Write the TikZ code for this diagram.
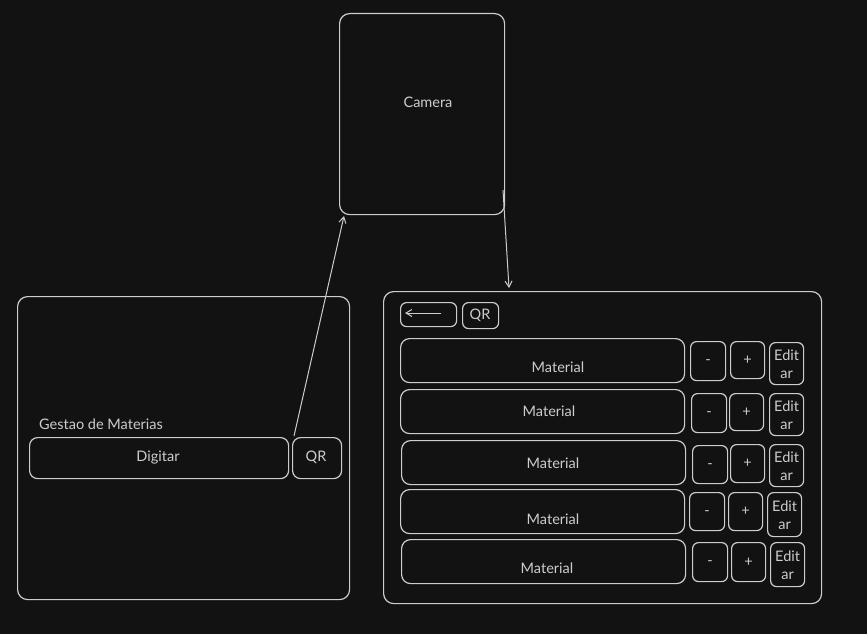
\documentclass[tikz,border=0pt]{standalone}
\usepackage{fontspec}
\setmainfont{Lato}
\usetikzlibrary{arrows.meta,calc}
\definecolor{bg}{HTML}{121212}
\definecolor{ink}{HTML}{CDCDCD}
\begin{document}
\begin{tikzpicture}[x=1pt,y=-1pt,
  box/.style={draw=ink, line width=1.2pt, rounded corners=6pt, inner sep=0pt, anchor=north west},
  bigbox/.style={box, rounded corners=10pt},
  lbl/.style={text=ink, font=\fontsize{14.5}{16}\selectfont, inner sep=0pt},
  conn/.style={draw=ink, line width=1pt, -{Straight Barb[length=6pt,width=7pt]}}]
\fill[bg] (0,0) rectangle (867,634);
\useasboundingbox (0,0) rectangle (867,634);
% camera
\node[bigbox, minimum width=165pt, minimum height=201pt] (cam) at (339,13) {};
\node[lbl] (camt) at (428,102) {Camera};
% left screen
\node[bigbox, minimum width=332pt, minimum height=303pt] (left) at (17,296) {};
\node[lbl, anchor=west] (gest) at (39,424.5) {Gestao de Materias};
\node[box, rounded corners=8pt, minimum width=259pt, minimum height=41pt] (dig) at (29,437) {};
\node[lbl] (digt) at (158,457.5) {Digitar};
\node[box, rounded corners=8pt, minimum width=49pt, minimum height=41pt] (qr1) at (292,437) {};
\node[lbl] (qr1t) at (316,457.5) {QR};
% right screen
\node[bigbox, minimum width=438pt, minimum height=312pt] (right) at (383,291) {};
\node[box, minimum width=56pt, minimum height=24pt] (back) at (400,302) {};
\coordinate (ba) at (441,313);
\coordinate (bb) at (405,313);
\draw[draw=ink, line width=1pt, -{Straight Barb[length=6pt,width=7pt]}] (ba) -- (bb);
\node[box, minimum width=36pt, minimum height=26pt] (qr2) at (462,302) {};
\node[lbl] (qr2t) at (480,315.5) {QR};
% rows
\foreach \i/\mx/\my/\tx/\ty/\ax/\ay/\ah/\px/\py/\ph/\ex/\ey/\eh in {
  1/400/338/558/367.5/690/341/39/730/341/37/769/342/42,
  2/400/389/549/411.5/691/393/39/729/393/37/769/393/42,
  3/401/440/553/463.5/692/445/38/730/444/38/769/444/42,
  4/400/489/553/519.5/689/492/38/728/492/38/767/492/44,
  5/401/539/547/568.5/692/542/39/731/542/39/770/542/44}{
  \node[box, rounded corners=9pt, minimum width=284pt, minimum height=44pt] (mat\i) at (\mx,\my) {};
  \node[lbl] (matt\i) at (\tx,\ty) {Material};
  \node[box, minimum width=35pt, minimum height=\ah pt] (minus\i) at (\ax,\ay) {};
  \node[lbl] (minust\i) at ($(minus\i.center)+(0,1)$) {-};
  \node[box, minimum width=34pt, minimum height=\ph pt] (plus\i) at (\px,\py) {};
  \node[lbl] (plust\i) at (plus\i.center) {+};
  \node[box, minimum width=34pt, minimum height=\eh pt] (edit\i) at (\ex,\ey) {};
  \node[lbl, align=center, font=\fontsize{14.5}{18.5}\selectfont] (editt\i) at ($(edit\i.center)+(0,0.5)$) {Edit\\ar};
}
% connectors
\coordinate (c1) at (294,436);
\coordinate (c2) at (344,216);
\draw[conn] (c1) -- (c2);
\coordinate (c3) at (503,190);
\coordinate (c4) at (509,288);
\draw[conn] (c3) -- (c4);
\end{tikzpicture}
\end{document}
